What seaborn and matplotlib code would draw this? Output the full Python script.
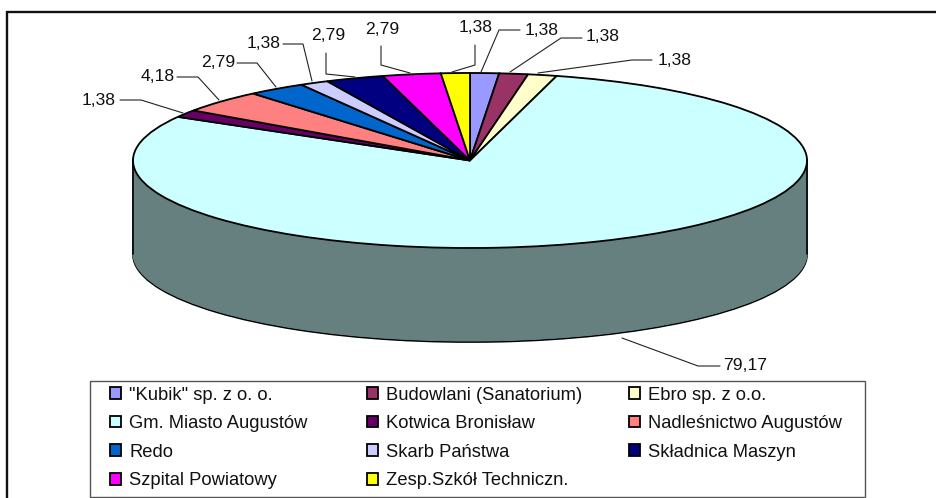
import numpy as np
import matplotlib
matplotlib.use('Agg')
import matplotlib.pyplot as plt
import seaborn as sns

names = ['"Kubik" sp. z o. o.', 'Budowlani (Sanatorium)', 'Ebro sp. z o.o.',
         'Gm. Miasto Augustów', 'Kotwica Bronisław', 'Nadleśnictwo Augustów',
         'Redo', 'Skarb Państwa', 'Składnica Maszyn',
         'Szpital Powiatowy', 'Zesp.Szkół Techniczn.']
shares = [1.38, 1.38, 1.38, 79.17, 1.38, 4.18, 2.79, 1.38, 2.79, 2.79, 1.38]
top_colors = ['#9999FF', '#993366', '#FFFFCC', '#CCFFFF', '#660066', '#FF8080',
              '#0066CC', '#CCCCFF', '#000080', '#FF00FF', '#FFFF00']
side_color = '#667F7F'

sns.set_theme(style='white')
plt.rcParams['font.family'] = ['Liberation Sans', 'DejaVu Sans']

fig = plt.figure(figsize=(9.37, 4.98), dpi=100)

# pie axes: radius 1 = 337 px wide, 87.5 px high, centre at pixel (470, 160.5)
cx, cy, rx, ry = 470, 160.5, 337, 87.5
depth = 94 / ry
ax = fig.add_axes([0, 0, 1, 1])

# side wall = stack of the same pie moved down
for i, d in enumerate(np.linspace(depth, 0, 100)):
    ax.pie(shares, center=(0, -d), colors=[side_color] * len(shares), startangle=90,
           counterclock=False,
           wedgeprops={'edgecolor': 'black' if i == 0 else side_color,
                       'linewidth': 1.3 if i == 0 else 0.6})
wedges, _ = ax.pie(shares, colors=sns.color_palette(top_colors), startangle=90,
                   counterclock=False,
                   wedgeprops={'edgecolor': 'black', 'linewidth': 1.3})
ax.plot([-1, -1], [0, -depth], color='black', lw=1.2)
ax.plot([1, 1], [0, -depth], color='black', lw=1.2)
ax.set_aspect('auto')
ax.set_xlim((0 - cx) / rx, (937 - cx) / rx)
ax.set_ylim((cy - 498) / ry, cy / ry)
ax.axis('off')

# overlay in pixel coordinates for frame, leaders and legend
ov = fig.add_axes([0, 0, 1, 1], facecolor='none')
ov.set_xlim(0, 937)
ov.set_ylim(498, 0)
ov.axis('off')

ov.plot([7.5, 7.5, 937], [498, 12, 12], color='#111111', lw=1.7, solid_joinstyle='miter')

# label centre and leader points, one per slice, same order as shares
label_xy = [(542, 30), (603, 36), (675, 60), (745, 365), (99, 100), (158, 76),
            (218, 62), (264, 43), (328, 35), (382, 29), (476, 27)]
leaders = [
    [(520, 30), (499, 30), (481, 72)],
    [(582, 38), (561, 38), (510, 72)],
    [(652, 60), (632, 60), (538, 73)],
    [(720, 366), (698, 366), (622, 338)],
    [(120, 100), (141, 100), (183, 113)],
    [(177, 77), (198, 77), (219, 100)],
    [(237, 63), (257, 63), (276, 87)],
    [(283, 44), (303, 44), (312, 81)],
    [(326, 53), (326, 74), (355, 77)],
    [(381, 46), (381, 65), (410, 73)],
    [(475, 45), (475, 65), (452, 72)],
]
for v, xy, pts in zip(shares, label_xy, leaders):
    ov.text(xy[0], xy[1], f'{v:.2f}'.replace('.', ','), fontsize=12.6,
            ha='center', va='center', color='#111111')
    ov.plot(*zip(*pts), color='#222222', lw=0.8)

# legend box and its three columns
ov.add_patch(plt.Rectangle((90.5, 381), 774.5, 116, fill=True, fc='white', ec='#555555', lw=1))
for col, x in enumerate([110, 367, 629]):
    leg = ov.legend(wedges[col::3], names[col::3], loc='upper left',
                    bbox_to_anchor=(x, 386.5), bbox_transform=ov.transData,
                    frameon=False, fontsize=13.2, handlelength=0.6, handleheight=0.6,
                    handletextpad=0.44, labelspacing=0.63, borderpad=0, borderaxespad=0,
                    labelcolor='#111111')
    ov.add_artist(leg)
ov.legend_ = None

fig.savefig('out.png', dpi=100)
